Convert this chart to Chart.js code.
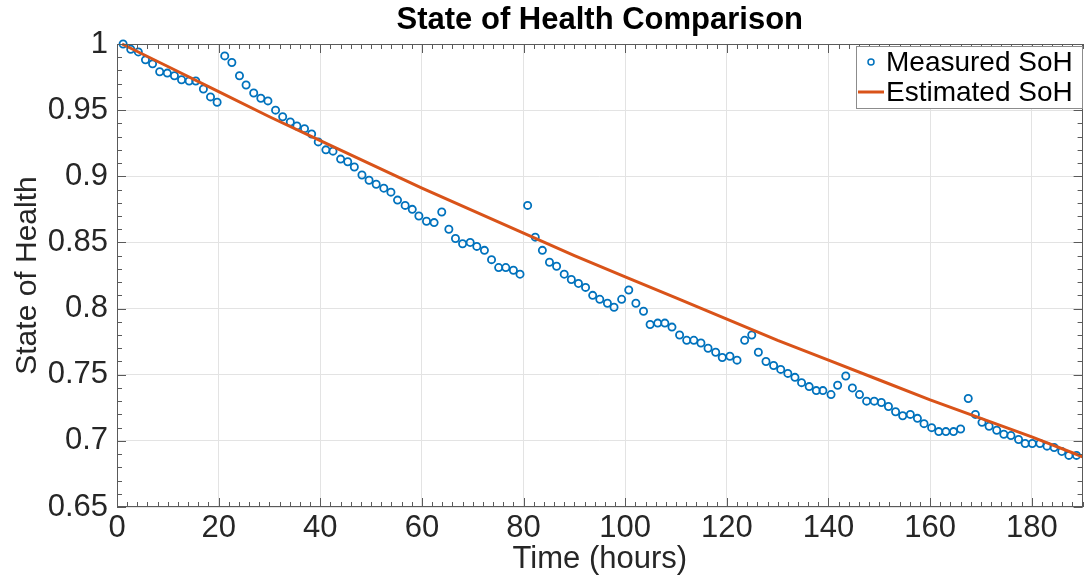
<!DOCTYPE html>
<html>
<head>
<meta charset="utf-8">
<script src="https://cdn.jsdelivr.net/npm/chart.js@4.4.1/dist/chart.umd.min.js"></script>
<style>
  html, body { margin: 0; padding: 0; background: #ffffff; }
  #wrap { width: 1088px; height: 581px; }
</style>
</head>
<body>
<div id="wrap"><canvas id="c" width="1088" height="581"></canvas></div>
<script>
// ---- data ----
const chartTitle = 'State of Health Comparison';
const xAxisTitle = 'Time (hours)';
const yAxisTitle = 'State of Health';
const measuredLabel = 'Measured SoH';
const estimatedLabel = 'Estimated SoH';

const measuredTime = [
  1.2, 2.7, 4.2, 5.6, 7.0, 8.4, 9.9, 11.3, 12.7, 14.2,
  15.5, 17.0, 18.4, 19.7, 21.2, 22.6, 24.1, 25.4, 26.9, 28.3,
  29.7, 31.2, 32.6, 34.1, 35.4, 36.9, 38.3, 39.6, 41.1, 42.5,
  44.0, 45.4, 46.7, 48.2, 49.6, 51.0, 52.5, 53.9, 55.2, 56.7,
  58.1, 59.4, 60.9, 62.4, 63.9, 65.3, 66.6, 68.0, 69.5, 70.8,
  72.3, 73.7, 75.1, 76.5, 78.0, 79.3, 80.8, 82.3, 83.7, 85.1,
  86.5, 88.0, 89.4, 90.8, 92.2, 93.6, 95.0, 96.5, 97.8, 99.3,
  100.7, 102.1, 103.6, 104.9, 106.4, 107.8, 109.2, 110.7, 112.1, 113.5,
  114.9, 116.3, 117.8, 119.1, 120.6, 122.0, 123.5, 124.9, 126.2, 127.7,
  129.2, 130.6, 132.0, 133.4, 134.7, 136.2, 137.6, 138.9, 140.5, 141.8,
  143.4, 144.7, 146.1, 147.5, 149.0, 150.4, 151.8, 153.2, 154.6, 156.1,
  157.5, 158.8, 160.3, 161.7, 163.1, 164.6, 166.0, 167.5, 168.9, 170.2,
  171.6, 173.1, 174.5, 175.9, 177.4, 178.7, 180.1, 181.6, 183.0, 184.4,
  185.9, 187.3, 188.8
];
const measuredSoH = [
  1.000, 0.996, 0.994, 0.988, 0.985, 0.979, 0.978, 0.976, 0.973, 0.972,
  0.972, 0.966, 0.960, 0.956, 0.991, 0.986, 0.976, 0.969, 0.963, 0.959,
  0.957, 0.950, 0.945, 0.941, 0.938, 0.936, 0.932, 0.926, 0.920, 0.919,
  0.913, 0.911, 0.907, 0.901, 0.897, 0.894, 0.891, 0.888, 0.882, 0.878,
  0.875, 0.870, 0.866, 0.865, 0.873, 0.860, 0.853, 0.849, 0.850, 0.847,
  0.844, 0.837, 0.831, 0.831, 0.829, 0.826, 0.878, 0.854, 0.844, 0.835,
  0.832, 0.826, 0.822, 0.819, 0.816, 0.810, 0.807, 0.804, 0.801, 0.807,
  0.814, 0.804, 0.798, 0.788, 0.789, 0.789, 0.786, 0.780, 0.776, 0.776,
  0.774, 0.770, 0.767, 0.763, 0.764, 0.761, 0.776, 0.780, 0.767, 0.760,
  0.757, 0.754, 0.751, 0.748, 0.744, 0.741, 0.738, 0.738, 0.735, 0.742,
  0.749, 0.740, 0.735, 0.730, 0.730, 0.729, 0.726, 0.722, 0.719, 0.720,
  0.717, 0.713, 0.710, 0.707, 0.707, 0.707, 0.709, 0.732, 0.720, 0.714,
  0.711, 0.708, 0.705, 0.704, 0.701, 0.698, 0.698, 0.698, 0.696, 0.695,
  0.692, 0.689, 0.689
];

const estimatedTime = [1, 10, 20, 30, 40, 50, 60, 70, 80, 90, 100, 110, 120, 130, 140, 150, 160, 170, 180, 190];
const estimatedSoH  = [1.000, 0.983, 0.964, 0.945, 0.927, 0.909, 0.891, 0.874, 0.857, 0.840,
                       0.824, 0.808, 0.792, 0.776, 0.761, 0.746, 0.731, 0.717, 0.703, 0.688];

const xTicks = [0, 20, 40, 60, 80, 100, 120, 140, 160, 180];
const yTicks = [0.65, 0.70, 0.75, 0.80, 0.85, 0.90, 0.95, 1.00];
const yTickLabels = ['0.65', '0.7', '0.75', '0.8', '0.85', '0.9', '0.95', '1'];
const xMin = 0, xMax = 190, yMin = 0.65, yMax = 1.0;

// ---- styling ----
const FONT = '"Liberation Sans", Arial, Helvetica, sans-serif';
const BLUE = '#0072BD';
const ORANGE = '#D95319';
const AXIS = '#5a5a5a';
const TEXT = '#262626';

const measuredPoints = measuredTime.map((t, i) => ({ x: t, y: measuredSoH[i] }));
const estimatedPoints = estimatedTime.map((t, i) => ({ x: t, y: estimatedSoH[i] }));

const titlePlugin = {
  id: 'matlabTitle',
  afterDraw(chart) {
    const { ctx, chartArea: a } = chart;
    ctx.save();
    ctx.font = 'bold 31px ' + FONT;
    ctx.fillStyle = '#000';
    ctx.textAlign = 'center';
    ctx.textBaseline = 'middle';
    ctx.fillText(chartTitle, (a.left + a.right) / 2, 20);
    ctx.restore();
  }
};

const boxPlugin = {
  id: 'matlabBox',
  afterDatasetsDraw(chart) {
    const { ctx, chartArea: a, scales: { x, y } } = chart;
    ctx.save();
    ctx.strokeStyle = AXIS;
    ctx.lineWidth = 1;
    ctx.beginPath();
    for (let k = 0; k <= 95; k++) {
      const v = k * 2;
      const px = Math.round(x.getPixelForValue(v)) + 0.5;
      const len = (v % 20 === 0) ? 9 : 5;
      ctx.moveTo(px, a.bottom); ctx.lineTo(px, a.bottom - len);
      ctx.moveTo(px, a.top); ctx.lineTo(px, a.top + len);
    }
    for (let k = 65; k <= 100; k++) {
      const v = k / 100;
      const py = Math.round(y.getPixelForValue(v)) + 0.5;
      const len = (k % 5 === 0) ? 9 : 5;
      ctx.moveTo(a.left, py); ctx.lineTo(a.left + len, py);
      ctx.moveTo(a.right, py); ctx.lineTo(a.right - len, py);
    }
    ctx.stroke();
    ctx.strokeRect(Math.round(a.left) + 0.5, Math.round(a.top) + 0.5,
                   Math.round(a.width) - 1, Math.round(a.height) - 1);
    ctx.restore();
  }
};

const legendPlugin = {
  id: 'matlabLegend',
  afterDraw(chart) {
    const { ctx } = chart;
    const ds = chart.data.datasets;
    const bx = 856, by = 46, bw = 226, bh = 62;
    ctx.save();
    ctx.fillStyle = '#ffffff';
    ctx.fillRect(bx, by, bw, bh);
    ctx.strokeStyle = '#8c8c8c';
    ctx.lineWidth = 1;
    ctx.strokeRect(bx + 0.5, by + 0.5, bw, bh);
    ctx.font = '28px ' + FONT;
    ctx.fillStyle = '#000';
    ctx.textBaseline = 'middle';
    ctx.textAlign = 'left';
    const r1 = 62, r2 = 92;
    ctx.beginPath();
    ctx.arc(871, r1, 3, 0, Math.PI * 2);
    ctx.strokeStyle = ds[0].borderColor;
    ctx.lineWidth = 1.5;
    ctx.stroke();
    ctx.fillText(ds[0].label, 886, r1 + 1);
    ctx.beginPath();
    ctx.moveTo(858, r2); ctx.lineTo(884, r2);
    ctx.strokeStyle = ds[1].borderColor;
    ctx.lineWidth = 3;
    ctx.stroke();
    ctx.fillText(ds[1].label, 886, r2 + 1);
    ctx.restore();
  }
};

new Chart(document.getElementById('c'), {
  type: 'scatter',
  data: {
    datasets: [
      {
        label: measuredLabel,
        data: measuredPoints,
        showLine: false,
        pointStyle: 'circle',
        pointRadius: 3.6,
        pointHoverRadius: 3.6,
        pointBorderWidth: 1.8,
        borderColor: BLUE,
        backgroundColor: 'rgba(0,0,0,0)',
        pointBackgroundColor: 'rgba(0,0,0,0)',
        pointBorderColor: BLUE,
        clip: false,
        order: 2
      },
      {
        label: estimatedLabel,
        data: estimatedPoints,
        showLine: true,
        borderColor: ORANGE,
        backgroundColor: ORANGE,
        borderWidth: 3,
        pointRadius: 0,
        tension: 0,
        clip: false,
        order: 1
      }
    ]
  },
  options: {
    responsive: false,
    animation: false,
    devicePixelRatio: 1,
    layout: { padding: { top: 44, right: 3, bottom: 0, left: 0 } },
    plugins: {
      legend: { display: false },
      title: { display: false },
      tooltip: { enabled: false }
    },
    scales: {
      x: {
        type: 'linear',
        min: xMin,
        max: xMax,
        afterBuildTicks: s => { s.ticks = xTicks.map(v => ({ value: v })); },
        afterFit: s => { s.height = 74; },
        grid: { color: '#e3e3e3', lineWidth: 1, drawTicks: false },
        border: { display: false },
        ticks: {
          color: TEXT,
          font: { family: FONT, size: 31 },
          padding: 3,
          maxRotation: 0,
          autoSkip: false,
          callback: v => String(v)
        },
        title: {
          display: true,
          text: xAxisTitle,
          color: TEXT,
          font: { family: FONT, size: 31, lineHeight: 1.2 },
          padding: { top: 0, bottom: 3 }
        }
      },
      y: {
        type: 'linear',
        min: yMin,
        max: yMax,
        afterBuildTicks: s => { s.ticks = yTicks.map(v => ({ value: v })); },
        afterFit: s => { s.width = 117; },
        grid: { color: '#e3e3e3', lineWidth: 1, drawTicks: false },
        border: { display: false },
        ticks: {
          color: TEXT,
          font: { family: FONT, size: 31 },
          padding: 9,
          autoSkip: false,
          callback: (v, i) => yTickLabels[i]
        },
        title: {
          display: true,
          text: yAxisTitle,
          color: TEXT,
          font: { family: FONT, size: 30, lineHeight: 1.2 },
          padding: { top: 10, bottom: 0 }
        }
      }
    }
  },
  plugins: [boxPlugin, legendPlugin, titlePlugin]
});
</script>
</body>
</html>
